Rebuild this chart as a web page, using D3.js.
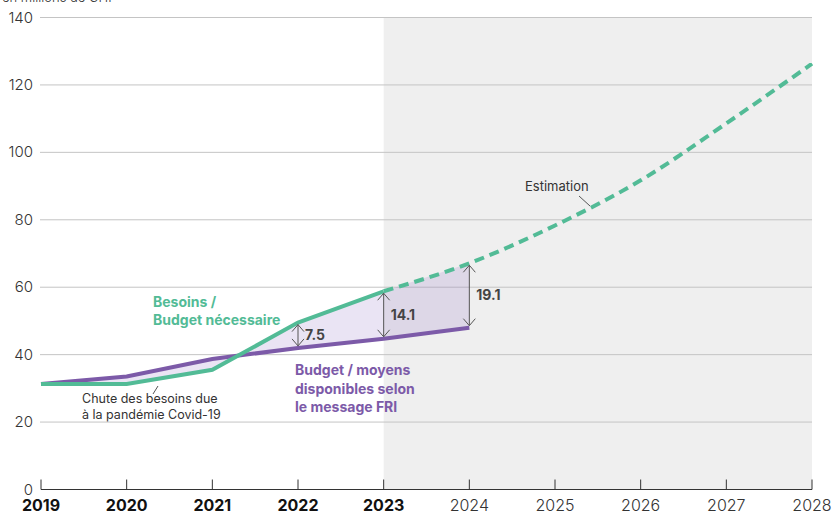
<!DOCTYPE html>
<html>
<head>
<meta charset="utf-8">
<script src="https://cdn.jsdelivr.net/npm/d3@7"></script>
<style>
  body { margin: 0; background: #fff; }
  svg { font-family: Inter, "Noto Sans", sans-serif; }
</style>
</head>
<body>
<div id="chart"></div>
<script>
// data
const years = [2019, 2020, 2021, 2022, 2023, 2024, 2025, 2026, 2027, 2028];
const besoins = [31.3, 31.3, 35.5, 49.5, 58.8];               // 2019-2023
const estimation = [58.8, 67.1, 78.3, 91.7, 108.6, 126.3];     // 2023-2028
const budget = [31.3, 33.5, 38.7, 42.0, 44.7, 48.0];           // 2019-2024
const gaps = [{year: 2022, value: "7.5"}, {year: 2023, value: "14.1"}, {year: 2024, value: "19.1"}];
const yTicks = [0, 20, 40, 60, 80, 100, 120, 140];

const width = 832, height = 512;
const green = "#52bb96", purple = "#7c5aa8";

const svg = d3.select('#chart').append('svg')
    .attr('width', width)
    .attr('height', height);

const x = d3.scaleLinear().domain([2019, 2028]).range([41, 812]);
const y = d3.scaleLinear().domain([0, 140]).range([489.5, 17.5]);

// shaded estimation area
svg.append('rect')
    .attr('x', x(2023)).attr('y', y(140))
    .attr('width', x(2028) - x(2023)).attr('height', y(0) - y(140))
    .attr('fill', '#efefef');

// gridlines
svg.append('g').selectAll('line')
    .data(yTicks.filter(d => d > 0))
    .join('line')
    .attr('x1', 40).attr('x2', 812)
    .attr('y1', d => y(d)).attr('y2', d => y(d))
    .attr('stroke', '#c4c4c4').attr('stroke-width', 1);

// y tick labels
svg.append('g').selectAll('text')
    .data(yTicks)
    .join('text')
    .attr('x', 33).attr('y', d => y(d) + 5)
    .attr('text-anchor', 'end')
    .attr('font-size', 15).attr('font-weight', 300).attr('fill', '#333')
    .text(d => d);

svg.append('text')
    .attr('x', 2).attr('y', 2)
    .attr('font-size', 13).attr('font-weight', 300).attr('fill', '#333')
    .text('en millions de CHF');

// band between need and budget
const band = years.slice(0, 6).map((yr, i) => ({
    yr, lo: budget[i], hi: i < 5 ? besoins[i] : estimation[1]
}));
svg.append('path')
    .datum(band)
    .attr('d', d3.area().x(d => x(d.yr)).y0(d => y(d.lo)).y1(d => y(d.hi)))
    .attr('fill', 'rgba(150,120,200,0.2)');

// lines
const line = d3.line().x(d => x(d[0])).y(d => y(d[1]));
svg.append('path')
    .datum(estimation.map((v, i) => [2023 + i, v]))
    .attr('d', d3.line().curve(d3.curveMonotoneX).x(d => x(d[0])).y(d => y(d[1])))
    .attr('fill', 'none').attr('stroke', green).attr('stroke-width', 4)
    .attr('stroke-dasharray', '10,6');
svg.append('path')
    .datum(budget.map((v, i) => [years[i], v]))
    .attr('d', line)
    .attr('fill', 'none').attr('stroke', purple).attr('stroke-width', 4);
svg.append('path')
    .datum(besoins.map((v, i) => [years[i], v]))
    .attr('d', line)
    .attr('fill', 'none').attr('stroke', green).attr('stroke-width', 4);

// gap arrows
const need = yr => yr < 2024 ? besoins[yr - 2019] : estimation[yr - 2023];
gaps.forEach(g => {
    const gx = x(g.year), y1 = y(need(g.year)) + 2, y2 = y(budget[g.year - 2019]) - 2;
    const a = svg.append('g').attr('stroke', '#555').attr('stroke-width', 1).attr('fill', 'none');
    a.append('line').attr('x1', gx).attr('x2', gx).attr('y1', y1).attr('y2', y2);
    a.append('path').attr('d', `M${gx - 6},${y1 + 7}L${gx},${y1}L${gx + 6},${y1 + 7}`);
    a.append('path').attr('d', `M${gx - 6},${y2 - 7}L${gx},${y2}L${gx + 6},${y2 - 7}`);
    svg.append('text')
        .attr('x', gx + 7).attr('y', (y1 + y2) / 2 + 5)
        .attr('font-size', 14).attr('font-weight', 700).attr('fill', '#444')
        .text(g.value);
});

// x axis
const axis = svg.append('g').attr('transform', `translate(0,${y(0)})`);
axis.append('line').attr('x1', x(2019)).attr('x2', x(2028)).attr('stroke', '#333');
axis.selectAll('line.tick')
    .data(years).join('line').attr('class', 'tick')
    .attr('x1', d => x(d)).attr('x2', d => x(d))
    .attr('y1', 0).attr('y2', -10).attr('stroke', '#333');
axis.selectAll('text')
    .data(years).join('text')
    .attr('x', d => x(d)).attr('y', 21)
    .attr('text-anchor', 'middle')
    .attr('font-size', 16)
    .attr('font-weight', d => d <= 2023 ? 700 : 300)
    .attr('fill', d => d <= 2023 ? '#111' : '#333')
    .text(d => d);

// series labels
function label(lines, lx, ly, color, weight, size, lh) {
    const t = svg.append('text').attr('font-size', size).attr('font-weight', weight).attr('fill', color);
    lines.forEach((s, i) => t.append('tspan').attr('x', lx).attr('y', ly + i * lh).text(s));
}
label(['Besoins /', 'Budget nécessaire'], 153, 307, green, 700, 14, 18);
label(['Budget / moyens', 'disponibles selon', 'le message FRI'], 295, 375, purple, 700, 14, 18.5);
label(['Chute des besoins due', 'à la pandémie Covid-19'], 82, 403, '#333', 400, 12.5, 16);
label(['Estimation'], 525, 191, '#333', 400, 13, 0);

// leader lines
svg.append('line').attr('x1', 158).attr('y1', 386).attr('x2', 153).attr('y2', 394)
    .attr('stroke', '#555').attr('stroke-width', 1);
svg.append('line').attr('x1', 579).attr('y1', 196).attr('x2', 590).attr('y2', 206)
    .attr('stroke', '#555').attr('stroke-width', 1);
</script>
</body>
</html>
